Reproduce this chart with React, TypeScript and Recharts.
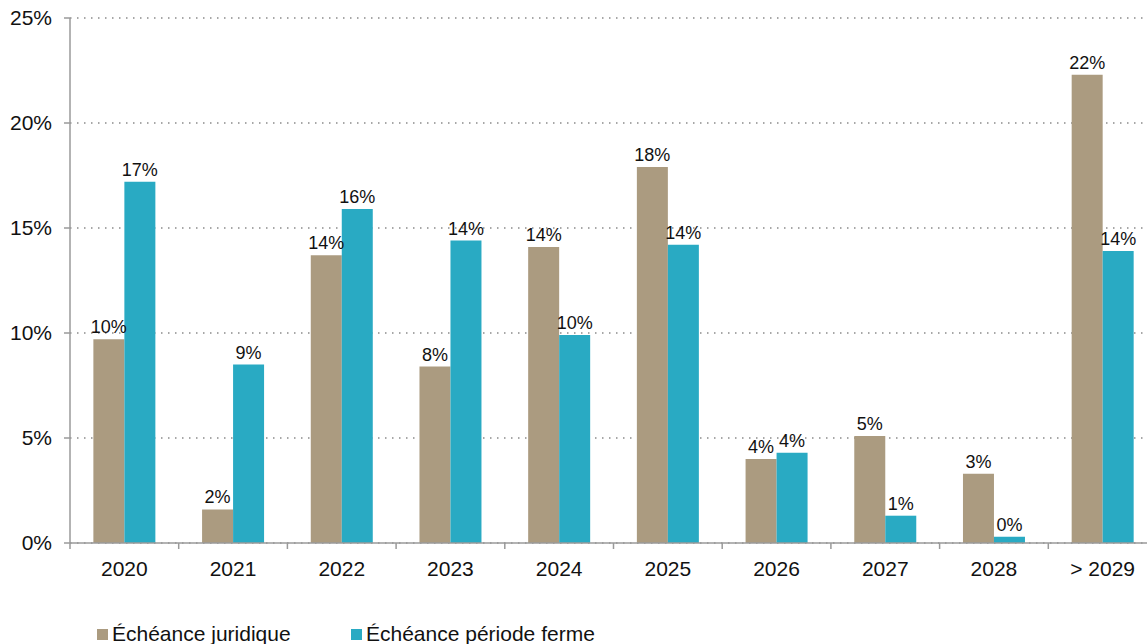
import { BarChart, Bar, XAxis, YAxis, CartesianGrid, LabelList, Legend } from "recharts";

// Values (in %)
const YEARS = ["2020", "2021", "2022", "2023", "2024", "2025", "2026", "2027", "2028", "> 2029"];
const JURIDIQUE = [9.7, 1.6, 13.7, 8.4, 14.1, 17.9, 4.0, 5.1, 3.3, 22.3];
const FERME = [17.2, 8.5, 15.9, 14.4, 9.9, 14.2, 4.3, 1.3, 0.3, 13.9];
const Y_TICKS = [0, 5, 10, 15, 20, 25];

const SERIES = [
    { key: "juridique", name: "Échéance juridique", color: "#AB9B80" },
    { key: "ferme", name: "Échéance période ferme", color: "#29AAC3" },
];

const data = YEARS.map((year, i) => ({
    year,
    juridique: JURIDIQUE[i],
    ferme: FERME[i],
}));

const CHART_W = 1157;
const CHART_H = 644;
const AXIS_LEFT = 70;
const LEGEND_H = 24;
const BAND = (CHART_W - AXIS_LEFT) / YEARS.length;
const FONT = "'Liberation Sans', Arial, sans-serif";

const YearTick = (props: any) => {
    const { x, y, payload } = props;
    const left = x - BAND / 2;
    return (
        <g>
            <line x1={left} y1={y} x2={left} y2={y + 6} stroke="#9a9a9a" strokeWidth={1.5} />
            <text x={x} y={y + 33} textAnchor="middle" fill="#111" fontSize={21} fontFamily={FONT}>
                {payload.value}
            </text>
        </g>
    );
};

const LegendContent = () => (
    <div style={{ position: "relative", height: LEGEND_H, fontFamily: FONT, fontSize: 21, color: "#111", lineHeight: `${LEGEND_H}px` }}>
        {SERIES.map((s, i) => (
            <div
                key={s.key}
                style={{ position: "absolute", left: i === 0 ? 97 : 351, top: 0, display: "flex", alignItems: "center", whiteSpace: "nowrap" }}
            >
                <span style={{ width: 11, height: 11, background: s.color, display: "inline-block", marginRight: 4 }} />
                <span>{s.name}</span>
            </div>
        ))}
    </div>
);

export default function App() {
    return (
        <div style={{ position: "fixed", left: 0, top: 0, width: 1147, height: 644, overflow: "hidden", background: "#fff" }}>
            <BarChart
                width={CHART_W}
                height={CHART_H}
                data={data}
                margin={{ top: 18, right: 0, bottom: 0, left: 0 }}
                barCategoryGap="21.5%"
                barGap={0}
            >
                <CartesianGrid vertical={false} stroke="#8a8a8a" strokeDasharray="1.5 5.5" strokeWidth={1.3} />
                <XAxis
                    dataKey="year"
                    height={101 - LEGEND_H}
                    axisLine={{ stroke: "#9a9a9a", strokeWidth: 1.5 }}
                    tickLine={false}
                    tickSize={0}
                    tickMargin={0}
                    tick={<YearTick />}
                    interval={0}
                />
                <YAxis
                    width={AXIS_LEFT}
                    domain={[0, 25]}
                    ticks={Y_TICKS}
                    tickFormatter={(v: number) => `${v}%`}
                    axisLine={{ stroke: "#9a9a9a", strokeWidth: 1.5 }}
                    tickLine={{ stroke: "#9a9a9a", strokeWidth: 1.5 }}
                    tickSize={6}
                    tickMargin={12}
                    tick={{ fill: "#111", fontSize: 21, fontFamily: FONT }}
                />
                <Legend
                    verticalAlign="bottom"
                    content={<LegendContent />}
                    wrapperStyle={{ position: "absolute", left: 0, top: 622, width: 700, height: LEGEND_H }}
                />
                {SERIES.map((s) => (
                    <Bar key={s.key} dataKey={s.key} name={s.name} fill={s.color} isAnimationActive={false}>
                        <LabelList
                            dataKey={s.key}
                            position="top"
                            offset={6}
                            formatter={(v: any) => `${Math.round(Number(v))}%`}
                            style={{ fill: "#111", fontSize: 18, fontFamily: FONT }}
                        />
                    </Bar>
                ))}
            </BarChart>
        </div>
    );
}
